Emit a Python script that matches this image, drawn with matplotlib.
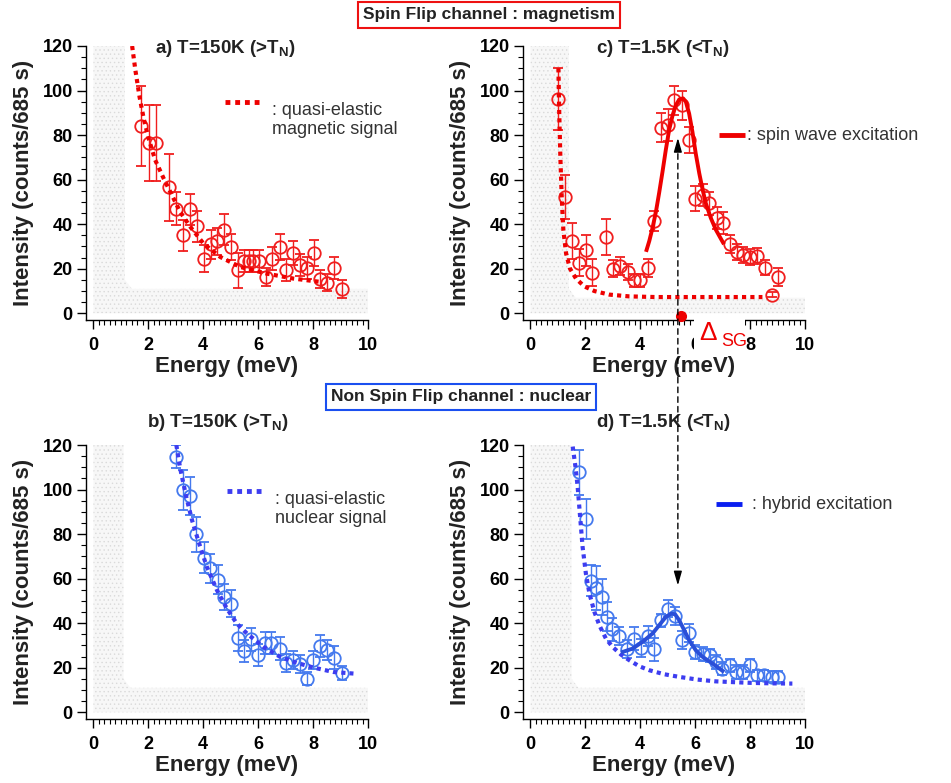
import matplotlib.pyplot as plt
import numpy as np
from matplotlib.patches import Polygon, Rectangle, ConnectionPatch

plt.rcParams['font.family'] = ['Liberation Sans', 'DejaVu Sans']
plt.rcParams['mathtext.fontset'] = 'custom'
plt.rcParams['mathtext.rm'] = 'Liberation Sans'
plt.rcParams['mathtext.bf'] = 'Liberation Sans:bold'
plt.rcParams['hatch.linewidth'] = 0.5

# ---- panel a : spin flip, T=150K
a_E = [1.73, 2.01, 2.29, 2.74, 3.02, 3.26, 3.50, 3.77, 4.04, 4.28, 4.50, 4.76, 5.02, 5.26, 5.49,
       5.68, 5.81, 6.04, 6.27, 6.52, 6.78, 7.02, 7.28, 7.53, 7.77, 8.04, 8.25, 8.52, 8.76, 9.04]
a_I = [84.2, 76.3, 76.3, 56.5, 47.0, 35.0, 46.7, 39.1, 24.6, 30.9, 32.4, 37.6, 29.8, 19.3, 23.4,
       23.4, 23.4, 23.4, 16.3, 24.6, 29.8, 19.3, 27.1, 21.6, 20.4, 27.1, 15.3, 13.8, 20.5, 11.1]
a_err = [18, 17, 17, 15, 7.5, 7, 7, 7, 6, 6.5, 6, 7, 6, 8, 5,
         5, 5, 5, 4, 5, 6, 5, 5.5, 5, 5, 6, 4, 4, 5, 4]
a_fit_E = [1.41, 1.53, 1.68, 1.83, 2.01, 2.25, 2.56, 2.86, 3.16, 3.53, 4.01, 4.62, 5.35, 6.32, 7.28, 8.01, 8.2]
a_fit_I = [120, 109, 97.2, 87.5, 78.5, 68.8, 60.5, 53.0, 45.5, 38.8, 31.3, 25.3, 20.8, 17.8, 15.6, 14.5, 14.2]

# ---- panel c : spin flip, T=1.5K
c_E = [1.02, 1.26, 1.50, 1.76, 2.02, 2.24, 2.75, 3.02, 3.26, 3.54, 3.76, 3.99, 4.27, 4.51, 4.75, 5.00,
       5.24, 5.52, 5.78, 6.00, 6.27, 6.51, 6.78, 7.02, 7.27, 7.54, 7.76, 8.00, 8.27, 8.53, 8.78, 9.02]
c_I = [96.2, 52.3, 32.4, 22.8, 28.3, 18.3, 34.3, 20.1, 21.1, 18.6, 14.8, 14.8, 20.5, 41.3, 83.3, 84.5,
       95.7, 93.5, 77.8, 51.5, 53.0, 49.3, 42.8, 40.7, 31.3, 27.6, 26.1, 25.3, 25.8, 20.5, 8.4, 16.3]
c_err = [14, 10, 8, 6, 7, 6, 8, 4, 4, 3.5, 3, 3, 4, 4.5, 6.5, 7,
         6.5, 6.5, 6, 5.5, 5, 5, 5, 5, 4, 3.5, 3.5, 3.5, 3.5, 3.5, 1, 4]
c_qe_E = [1.02, 1.05, 1.09, 1.14, 1.20, 1.30, 1.44, 1.66, 1.96, 2.33, 2.87, 3.6, 4.57, 5.78, 7.11, 8.45]
c_qe_I = [110, 89.7, 70.3, 52.3, 37.3, 26.8, 20.1, 15.6, 12.1, 10.0, 8.4, 7.6, 7.3, 7.3, 7.3, 7.3]
c_sw_E = [4.21, 4.33, 4.45, 4.57, 4.69, 4.81, 4.93, 5.05, 5.18, 5.30, 5.42, 5.56, 5.66, 5.78, 5.90,
          6.02, 6.15, 6.27, 6.39, 6.57, 6.75, 6.93, 7.05]
c_sw_I = [27.6, 32.5, 38.5, 45.5, 54.2, 63.5, 73.3, 82.2, 89.0, 93.5, 96.0, 96.5, 95.0, 89.7, 81.5,
          71.8, 62.8, 55.6, 49.3, 42.8, 37.6, 33.6, 31.0]

# ---- panel b : non spin flip, T=150K
b_E = [3.02, 3.25, 3.53, 3.75, 4.01, 4.25, 4.52, 4.76, 5.02, 5.26, 5.49, 5.75, 6.01, 6.25, 6.46,
       6.78, 7.01, 7.28, 7.53, 7.77, 8.01, 8.25, 8.52, 8.76, 9.04]
b_I = [114.8, 99.8, 97.2, 79.9, 69.4, 64.6, 59.6, 51.8, 48.8, 33.4, 27.4, 32.7, 25.6, 31.2, 31.2,
       28.6, 22.3, 23.4, 21.6, 15.1, 23.4, 29.7, 27.9, 24.6, 17.7]
b_err = [5, 9, 8.5, 8, 7, 6.5, 6.5, 6, 6, 6, 5, 5, 5, 5, 5,
         5, 4, 4, 4, 3, 4, 5, 4.5, 5, 3]
b_fit_E = [3.02, 3.16, 3.38, 3.59, 3.83, 4.13, 4.50, 4.86, 5.22, 5.59, 6.19, 6.80, 7.41, 8.01, 8.74, 9.47]
b_fit_I = [120, 109.5, 96.8, 86.3, 76.6, 65.3, 54.8, 46.6, 39.9, 35.4, 29.4, 24.9, 22.2, 20.1, 18.1, 17.4]

# ---- panel d : non spin flip, T=1.5K
d_E = [1.78, 2.02, 2.21, 2.39, 2.61, 2.78, 2.97, 3.24, 3.50, 3.76, 4.02, 4.27, 4.51, 4.75, 5.02, 5.27,
       5.52, 5.78, 5.99, 6.27, 6.53, 6.75, 6.99, 7.26, 7.50, 7.75, 7.99, 8.27, 8.51, 8.78, 9.03]
d_I = [107.7, 86.7, 59.0, 55.9, 51.8, 42.8, 37.2, 34.2, 28.6, 33.1, 28.9, 34.2, 28.2, 41.3, 46.6, 43.1,
       32.4, 35.7, 27.1, 26.1, 25.6, 22.6, 19.6, 21.1, 18.1, 18.1, 21.1, 16.6, 16.6, 15.9, 15.9]
d_err = [10, 9, 7, 10, 8, 6.5, 5, 4, 4, 5, 4, 4.5, 5, 3, 4, 4,
         4, 4, 3, 3, 3, 3, 3, 3, 3, 3, 3, 2.5, 2.5, 2.5, 2.5]
d_qe_E = [1.54, 1.64, 1.72, 1.81, 1.90, 2.02, 2.15, 2.33, 2.51, 2.75, 2.99, 3.30, 3.6, 3.96, 4.33,
          4.87, 5.42, 6.08, 6.75, 7.48, 8.08, 8.81, 9.54]
d_qe_I = [119.3, 110.3, 101.3, 87.8, 74.3, 62.3, 53.3, 45.1, 39.1, 33.1, 29.4, 25.9, 23.4, 20.7, 18.9,
          17.1, 15.9, 14.7, 13.9, 13.5, 13.2, 13.0, 12.9]
d_hy_E = [3.36, 3.72, 4.08, 4.45, 4.69, 4.93, 5.12, 5.27, 5.42, 5.60, 5.78, 6.02, 6.27, 6.63, 7.0]
d_hy_I = [27.1, 28.6, 31.6, 35.4, 39.1, 42.8, 44.3, 44.0, 41.3, 36.9, 32.4, 27.9, 24.9, 21.9, 18.6]

# gray (inaccessible) region: width of vertical band, height of horizontal band
shade = {'a': (1.15, 11), 'b': (1.1, 11), 'c': (1.4, 7), 'd': (1.5, 11)}

delta_sg = 5.49
arrow_E = 5.37

red = '#f01e1e'
red_fit = '#ee0000'
blue = '#4479ee'
blue_fit = '#3d3df0'
blue_line = '#2a4fd8'

W, H = 951, 783
fig = plt.figure(figsize=(W / 100, H / 100), dpi=100)


def make_ax(left, top):
    ax = fig.add_axes([left / W, 1 - (top + 274) / H, 282 / W, 274 / H])
    ax.set_xlim(-0.27, 10)
    ax.set_ylim(-3, 120)
    for s in ['top', 'right']:
        ax.spines[s].set_visible(False)
    for s in ['left', 'bottom']:
        ax.spines[s].set_linewidth(1.0)
    ax.set_xticks(np.arange(0, 11, 2))
    ax.set_xticks(np.arange(0, 10.01, 0.2), minor=True)
    ax.set_yticks(np.arange(0, 121, 20))
    ax.set_yticks(np.arange(0, 121, 5), minor=True)
    ax.tick_params(which='major', length=6.5, width=1, labelsize=13)
    ax.tick_params(which='minor', length=3.5, width=0.8)
    ax.tick_params(axis='x', which='major', pad=6)
    ax.tick_params(axis='y', which='major', pad=3)
    for lab in ax.get_xticklabels() + ax.get_yticklabels():
        lab.set_fontweight('bold')
    ax.set_xlabel('Energy (meV)', fontsize=16, fontweight='bold', labelpad=1, color='#222222')
    ax.set_ylabel('Intensity (counts/685 s)', fontsize=16, fontweight='bold', labelpad=6, color='#222222')
    return ax


def add_shade(ax, key):
    w, h = shade[key]
    poly = Polygon([(0, 0), (10, 0), (10, h), (w + 0.25, h), (w, h + 4), (w, 120), (0, 120)],
                   closed=True, facecolor='#f7f7f7', edgecolor='#dadada', hatch='....',
                   linewidth=0, zorder=0)
    ax.add_patch(poly)


def add_data(ax, E, I, err, color):
    ax.errorbar(E, I, yerr=err, fmt='o', mfc='none', mec=color, ecolor=color, ms=9, mew=1.3,
                elinewidth=1, capsize=3.5, capthick=1, zorder=3)


ax_a = make_ax(86, 46)
ax_c = make_ax(523, 46)
ax_b = make_ax(86, 445)
ax_d = make_ax(523, 445)

for ax, key in [(ax_a, 'a'), (ax_b, 'b'), (ax_c, 'c'), (ax_d, 'd')]:
    add_shade(ax, key)

dots = (0, (1, 1))

# panel a
ax_a.plot(a_fit_E, a_fit_I, color=red_fit, lw=3, ls=dots, zorder=4)
add_data(ax_a, a_E, a_I, a_err, red)
ax_a.text(2.25, 119, r'a) T=150K (>T$_\mathbf{N}$)', fontsize=13.5, fontweight='bold',
          va='center', clip_on=False, color='#222222')
ax_a.plot([4.8, 6.15], [94.8, 94.8], color=red_fit, lw=3.5, ls=dots)
ax_a.text(6.5, 94.8, ': quasi-elastic\nmagnetic signal', fontsize=13, va='top',
          color='#333333', linespacing=1.15, transform=ax_a.transData)

# panel c
ax_c.plot(c_qe_E, c_qe_I, color=red_fit, lw=3, ls=dots, zorder=4)
ax_c.plot(c_sw_E, c_sw_I, color=red_fit, lw=2.8, zorder=4, solid_capstyle='butt')
add_data(ax_c, c_E, c_I, c_err, red)
ax_c.text(2.4, 119, r'c) T=1.5K (<T$_\mathbf{N}$)', fontsize=13.5, fontweight='bold',
          va='center', clip_on=False, color='#222222')
ax_c.plot([6.87, 7.82], [80, 80], color=red_fit, lw=3.5, solid_capstyle='butt')
ax_c.text(7.89, 80, ': spin wave excitation', fontsize=13, va='center', color='#333333',
          clip_on=False)
ax_c.plot([delta_sg], [-1.3], 'o', color='#ee0000', ms=7, clip_on=False, zorder=6)

# panel b
ax_b.plot(b_fit_E, b_fit_I, color=blue_fit, lw=3, ls=dots, zorder=4)
add_data(ax_b, b_E, b_I, b_err, blue)
ax_b.text(1.96, 130, r'b) T=150K (>T$_\mathbf{N}$)', fontsize=13.5, fontweight='bold',
          va='center', clip_on=False, color='#222222')
ax_b.plot([4.87, 6.18], [99.3, 99.3], color=blue_fit, lw=3.5, ls=dots)
ax_b.text(6.62, 99.3, ': quasi-elastic\nnuclear signal', fontsize=13, va='top',
          color='#333333', linespacing=1.15)

# panel d
ax_d.plot(d_qe_E, d_qe_I, color=blue_fit, lw=3, ls=dots, zorder=4)
ax_d.plot(d_hy_E, d_hy_I, color=blue_line, lw=2.8, zorder=4)
add_data(ax_d, d_E, d_I, d_err, blue)
ax_d.text(2.4, 130, r'd) T=1.5K (<T$_\mathbf{N}$)', fontsize=13.5, fontweight='bold',
          va='center', clip_on=False, color='#222222')
ax_d.plot([6.76, 7.71], [93.5, 93.5], color='#0a1ef0', lw=3.5, solid_capstyle='butt')
ax_d.text(8.07, 93.5, ': hybrid excitation', fontsize=13, va='center', color='#333333',
          clip_on=False)

# channel boxes
fig.text(489 / W, 1 - 15 / H, 'Spin Flip channel : magnetism', fontsize=12.5, fontweight='bold',
         ha='center', va='center', color='#222222',
         bbox=dict(boxstyle='square,pad=0.3', facecolor='white', edgecolor='#ee1111', lw=1.5))
fig.text(461 / W, 1 - 397 / H, 'Non Spin Flip channel : nuclear', fontsize=12.5, fontweight='bold',
         ha='center', va='center', color='#222222',
         bbox=dict(boxstyle='square,pad=0.3', facecolor='white', edgecolor='#1a4ff0', lw=1.5))

# dashed double arrow linking the peaks
con = ConnectionPatch(xyA=(arrow_E, 76), coordsA=ax_c.transData,
                      xyB=(arrow_E, 59), coordsB=ax_d.transData,
                      arrowstyle='-', linestyle=(0, (4, 3)), color='black', lw=1, zorder=7)
fig.add_artist(con)
ax_c.annotate('', xy=(arrow_E, 80), xytext=(arrow_E, 74),
              arrowprops=dict(arrowstyle='-|>,head_length=0.7,head_width=0.2', color='black',
                              lw=1, mutation_scale=12))
ax_d.annotate('', xy=(arrow_E, 55.7), xytext=(arrow_E, 61),
              arrowprops=dict(arrowstyle='-|>,head_length=0.7,head_width=0.2', color='black',
                              lw=1, mutation_scale=12))

# Delta_SG label (its white box hides part of the axis)
fig.add_artist(Rectangle((694 / W, 1 - 352 / H), 51 / W, 33 / H, transform=fig.transFigure,
                         facecolor='white', edgecolor='none', zorder=8))
fig.text(699 / W, 1 - 333 / H, 'Δ', fontsize=19, color='#ee0000', va='center', ha='left', zorder=9)
fig.text(721 / W, 1 - 342 / H, 'SG', fontsize=13, color='#ee0000', va='center', ha='left', zorder=9)

fig.savefig('out.png', dpi=100)
